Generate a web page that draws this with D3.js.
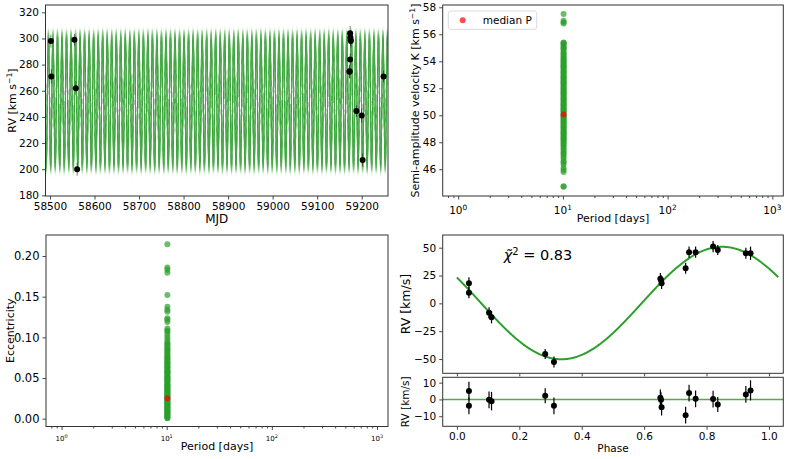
<!DOCTYPE html>
<html><head><meta charset="utf-8">
<script src="https://cdn.jsdelivr.net/npm/d3@7"></script>
<style>
body{margin:0;background:#fff;}
svg{display:block;font-family:"DejaVu Sans",sans-serif;}
</style></head><body>
<svg id="c" width="789" height="459"></svg>
<script>
// ---------------- data ----------------
const mjd   = [58502, 58503, 58555, 58558, 58561, 59174, 59174.5, 59175, 59175.5, 59174, 59173, 59172.5, 59188, 59200, 59202, 59249];
const rvObs = [298, 271, 299, 262, 200, 304, 301, 299, 298, 284, 275, 274.5, 244.5, 241, 207, 271];
const rvErr = [5, 5.5, 4.5, 5.5, 5, 5.5, 5, 4.5, 5, 4.5, 5, 5, 4.5, 5.5, 5, 4.5];

const phase    = [0.0386, 0.0386, 0.103, 0.111, 0.283, 0.311, 0.652, 0.654, 0.656, 0.733, 0.744, 0.765, 0.821, 0.836, 0.926, 0.941];
const rvPhase  = [18, 9.6, -8.4, -12.5, -45.5, -52.7, 22.2, 21, 18, 31.5, 46, 46, 51, 48, 45, 45];
const residual = [5.0, -3.8, -0.2, -1.0, 2.2, -3.8, 1.0, -0.2, -4.6, -9.4, 3.8, 0.4, 0.2, -3.0, 3.0, 5.4];
const phaseErr = [5.5, 5, 5, 5.5, 4.5, 5, 5, 4.5, 5, 5, 5, 5, 5, 4.5, 5, 6];

// posterior samples (K and e), period of the samples
const postK = [57.5, 57.0, 56.9, 56.8,
  55.4, 55.35, 55.3, 55.2, 55.1, 55.0, 54.95, 54.85, 54.7, 54.6, 54.5, 54.4, 54.3, 54.2, 54.1, 54.05,
  53.95, 53.9, 53.8, 53.7, 53.65, 53.55, 53.5, 53.4, 53.3, 53.25, 53.15, 53.1, 53.0, 52.9, 52.85, 52.75,
  52.7, 52.6, 52.5, 52.45, 52.35, 52.3, 52.2, 52.1, 52.05, 51.95, 51.9, 51.8, 51.7, 51.65, 51.55, 51.5,
  51.4, 51.3, 51.25, 51.15, 51.1, 51.0, 50.9, 50.85, 50.75, 50.7, 50.6, 50.5, 50.45, 50.35, 50.3, 50.2,
  50.1, 50.0, 49.95, 49.85, 49.8, 49.7, 49.6, 49.55, 49.45, 49.4, 49.3, 49.2, 49.15, 49.05, 49.0, 48.9,
  48.8, 48.75, 48.65, 48.6, 48.5, 48.4, 48.35, 48.25, 48.2, 48.1, 48.0, 47.9, 47.8, 47.7, 47.55, 47.45,
  47.3, 47.2, 47.1, 46.95, 46.8, 46.6, 46.5, 46.35, 46.1, 45.95, 45.8, 44.75, 44.7];
const postE = [0.2143, 0.1857, 0.183, 0.1795, 0.152, 0.1377, 0.134, 0.1316, 0.1234, 0.1215, 0.119, 0.111,
  0.1085, 0.107, 0.1035, 0.1, 0.097, 0.094, 0.092, 0.091, 0.089, 0.087, 0.0855, 0.084, 0.082, 0.081, 0.079,
  0.077, 0.076, 0.075, 0.073, 0.072, 0.070, 0.069, 0.068, 0.067, 0.065, 0.064, 0.063, 0.062, 0.060, 0.059,
  0.058, 0.057, 0.056, 0.055, 0.053, 0.052, 0.051, 0.05, 0.049, 0.048, 0.047, 0.046, 0.045, 0.043, 0.042,
  0.041, 0.04, 0.039, 0.038, 0.037, 0.036, 0.035, 0.034, 0.033, 0.032, 0.031, 0.03, 0.029, 0.028, 0.027,
  0.026, 0.025, 0.024, 0.023, 0.022, 0.021, 0.02, 0.019, 0.018, 0.017, 0.016, 0.015, 0.014, 0.013, 0.012,
  0.011, 0.01, 0.009, 0.008, 0.007, 0.006, 0.005, 0.004, 0.003, 0.002, 0.001, 0.0005];
const periodDays = 10.15;
const medianK = 50.05;
const medianE = 0.025;
const gammaRV = 252;
const T0 = 58491.5;
// phase-folded model curve parameters
const modelK = 50.5, modelOffset = 0.3, modelPhaseMin = 0.335, modelPhaseSpan = 1.031;

const mjdTicks = [58500, 58600, 58700, 58800, 58900, 59000, 59100, 59200];
const rvTicks  = [180, 200, 220, 240, 260, 280, 300, 320];
const kTicks   = [46, 48, 50, 52, 54, 56, 58];
const eTicks   = [0.00, 0.05, 0.10, 0.15, 0.20];
const logTicks = [1, 10, 100, 1000];
const phaseTicks = [0.0, 0.2, 0.4, 0.6, 0.8, 1.0];
const rvPhaseTicks = [-50, -25, 0, 25, 50];
const residTicks = [-10, 0, 10];

// ---------------- drawing ----------------
const GREEN = "#2ca02c", AX = "#333";
const svg = d3.select("#c");
const FONT = "DejaVu Sans";

function styleAxis(sel, fs){
  sel.select(".domain").remove();
  sel.attr("font-family", FONT);
  sel.selectAll(".tick line").attr("stroke", AX).attr("stroke-width", 0.9);
  sel.selectAll(".tick text").attr("font-size", fs).attr("fill", "#000");
}
function frame(g, w, h){
  g.append("rect").attr("width", w).attr("height", h).attr("fill", "none")
   .attr("stroke", AX).attr("stroke-width", 1);
}
function supLabel(g, x, y, rot, parts, fs){
  const t = g.append("text").attr("transform", `translate(${x},${y}) rotate(${rot})`)
    .attr("text-anchor", "middle").attr("font-size", fs).attr("font-family", FONT).attr("fill", "#000");
  parts.forEach(p => {
    const ts = t.append("tspan").text(p.t);
    if (p.sup) ts.attr("baseline-shift", "super").attr("font-size", fs * 0.7);
  });
  return t;
}
function logAxis(g, x, h, fsSup){
  const minors = [];
  [0.1, 1, 10, 100].forEach(d => { for (let i = 2; i < 10; i++) { const v = d * i; if (v > x.domain()[0] && v < x.domain()[1]) minors.push(v); } });
  const mg = g.append("g").attr("transform", `translate(0,${h})`)
    .call(d3.axisBottom(x).tickValues(minors).tickSize(2).tickFormat(""));
  styleAxis(mg, 8);
  const Mg = g.append("g").attr("transform", `translate(0,${h})`)
    .call(d3.axisBottom(x).tickValues(logTicks).tickSize(3.5).tickFormat(""));
  styleAxis(Mg, 8);
  logTicks.forEach((v, i) => {
    const t = g.append("text").attr("x", x(v)).attr("y", h + 3.5 + 3.5 + fsSup)
      .attr("text-anchor", "middle").attr("font-size", fsSup).attr("font-family", FONT);
    t.append("tspan").text("10");
    t.append("tspan").text(String(i)).attr("baseline-shift", "super").attr("font-size", fsSup * 0.7);
  });
}

// ===== Panel 1: RV vs MJD =====
{
  const L = 45.5, T = 5, W = 342.5, H = 191;
  const g = svg.append("g").attr("transform", `translate(${L},${T})`);
  const x = d3.scaleLinear().domain([58490, 59259]).range([0, W]);
  const y = d3.scaleLinear().domain([179.5, 325.6]).range([H, 0]);
  g.append("clipPath").attr("id", "clip1").append("rect").attr("width", W).attr("height", H);
  const ts = d3.range(x.domain()[0], x.domain()[1], 0.25);
  const band = g.append("g").attr("clip-path", "url(#clip1)");
  postK.filter((k, i) => i % 2 === 0).forEach(K => {
    const line = d3.line().x(t => x(t)).y(t => y(gammaRV - K * Math.cos(2 * Math.PI * (t - T0) / periodDays)));
    band.append("path").attr("d", line(ts)).attr("fill", "none")
      .attr("stroke", GREEN).attr("stroke-width", 1.2).attr("stroke-opacity", 0.035);
  });
  const pts = g.append("g");
  mjd.forEach((t, i) => {
    pts.append("line").attr("x1", x(t)).attr("x2", x(t))
      .attr("y1", y(rvObs[i] - rvErr[i])).attr("y2", y(rvObs[i] + rvErr[i]))
      .attr("stroke", "#000").attr("stroke-width", 1).attr("stroke-opacity", 0.5);
    pts.append("circle").attr("cx", x(t)).attr("cy", y(rvObs[i])).attr("r", 3).attr("fill", "#000");
  });
  const xa = g.append("g").attr("transform", `translate(0,${H})`)
    .call(d3.axisBottom(x).tickValues(mjdTicks).tickSize(3.5).tickPadding(3).tickFormat(d3.format("d")));
  styleAxis(xa, 10.5);
  const ya = g.append("g").call(d3.axisLeft(y).tickValues(rvTicks).tickSize(3.5).tickPadding(3));
  styleAxis(ya, 10.5);
  frame(g, W, H);
  svg.append("text").attr("x", L + W / 2).attr("y", 223).attr("text-anchor", "middle")
    .attr("font-size", 12).attr("font-family", FONT).text("MJD");
  supLabel(svg, 15.5, T + H / 2, -90, [{t: "RV [km s"}, {t: "−1", sup: true}, {t: "]"}], 11);
}

// ===== Panel 2: K vs Period =====
{
  const L = 442.7, T = 5, W = 340.6, H = 191;
  const g = svg.append("g").attr("transform", `translate(${L},${T})`);
  const x = d3.scaleLog().domain([0.711, 1273]).range([0, W]);
  const y = d3.scaleLinear().domain([44.02, 58.17]).range([H, 0]);
  postK.forEach(K => g.append("circle").attr("cx", x(periodDays)).attr("cy", y(K)).attr("r", 3)
    .attr("fill", GREEN).attr("fill-opacity", 0.7));
  g.append("circle").attr("cx", x(periodDays)).attr("cy", y(medianK)).attr("r", 3)
    .attr("fill", "red").attr("fill-opacity", 0.7);
  logAxis(g, x, H, 10.5);
  const ya = g.append("g").call(d3.axisLeft(y).tickValues(kTicks).tickSize(3.5).tickPadding(3));
  styleAxis(ya, 10.5);
  frame(g, W, H);
  // legend
  const lg = g.append("g").attr("transform", "translate(5.6,6)");
  lg.append("rect").attr("width", 88.4).attr("height", 18.3).attr("rx", 2.5)
    .attr("fill", "#fff").attr("fill-opacity", 0.8).attr("stroke", "#d0d0d0").attr("stroke-width", 0.8);
  lg.append("circle").attr("cx", 14.4).attr("cy", 9.2).attr("r", 3).attr("fill", "red").attr("fill-opacity", 0.7);
  lg.append("text").attr("x", 34.4).attr("y", 13).attr("font-size", 10.5).attr("font-family", FONT).text("median P");
  svg.append("text").attr("x", L + W / 2).attr("y", 222).attr("text-anchor", "middle")
    .attr("font-size", 11).attr("font-family", FONT).text("Period [days]");
  supLabel(svg, 419, T + H / 2, -90, [{t: "Semi-amplitude velocity K [km s"}, {t: "−1", sup: true}, {t: "]"}], 11);
}

// ===== Panel 3: e vs Period =====
{
  const L = 46, T = 235, W = 342, H = 191.5;
  const g = svg.append("g").attr("transform", `translate(${L},${T})`);
  const x = d3.scaleLog().domain([0.711, 1273]).range([0, W]);
  const y = d3.scaleLinear().domain([-0.0096, 0.2258]).range([H, 0]);
  postE.forEach(e => g.append("circle").attr("cx", x(periodDays)).attr("cy", y(e)).attr("r", 3)
    .attr("fill", GREEN).attr("fill-opacity", 0.7));
  g.append("circle").attr("cx", x(periodDays)).attr("cy", y(medianE)).attr("r", 3)
    .attr("fill", "red").attr("fill-opacity", 0.7);
  logAxis(g, x, H, 7);
  const ya = g.append("g").call(d3.axisLeft(y).tickValues(eTicks).tickSize(3.5).tickPadding(3).tickFormat(d3.format(".2f")));
  styleAxis(ya, 11.5);
  frame(g, W, H);
  svg.append("text").attr("x", L + W / 2).attr("y", 450).attr("text-anchor", "middle")
    .attr("font-size", 11).attr("font-family", FONT).text("Period [days]");
  supLabel(svg, 13.5, T + H / 2, -90, [{t: "Eccentricity"}], 11);
}

// ===== Panel 4: phase-folded RV + residuals =====
{
  const L = 442.7, W = 340.6;
  const x = d3.scaleLinear().domain([-0.0455, 1.046]).range([0, W]);
  // upper
  const T = 235, H = 138.3;
  const g = svg.append("g").attr("transform", `translate(${L},${T})`);
  const y = d3.scaleLinear().domain([-62.8, 61.4]).range([H, 0]);
  const ph = d3.range(0, modelPhaseSpan + 1e-9, 0.002);
  const curve = d3.line().x(p => x(p)).y(p => y(modelOffset - modelK * Math.cos(2 * Math.PI * (p - modelPhaseMin) / modelPhaseSpan)));
  g.append("path").attr("d", curve(ph)).attr("fill", "none").attr("stroke", GREEN).attr("stroke-width", 2);
  phase.forEach((p, i) => {
    g.append("line").attr("x1", x(p)).attr("x2", x(p)).attr("y1", y(rvPhase[i] - phaseErr[i])).attr("y2", y(rvPhase[i] + phaseErr[i]))
      .attr("stroke", "#000").attr("stroke-width", 1.2);
    g.append("circle").attr("cx", x(p)).attr("cy", y(rvPhase[i])).attr("r", 3).attr("fill", "#000");
  });
  const xa = g.append("g").attr("transform", `translate(0,${H})`)
    .call(d3.axisBottom(x).tickValues(phaseTicks).tickSize(3).tickFormat(""));
  styleAxis(xa, 10);
  const ya = g.append("g").call(d3.axisLeft(y).tickValues(rvPhaseTicks).tickSize(3.5).tickPadding(3));
  styleAxis(ya, 10.5);
  frame(g, W, H);
  const chi = g.append("text").attr("x", 61).attr("y", 24.5).attr("font-size", 14.5).attr("font-family", FONT);
  chi.append("tspan").text("χ\u0303").attr("font-style", "italic");
  chi.append("tspan").text("2").attr("baseline-shift", "super").attr("font-size", 10);
  chi.append("tspan").text(" = 0.83");
  supLabel(svg, 410, T + H / 2, -90, [{t: "RV [km/s]"}], 12.5);

  // lower
  const T2 = 377.3, H2 = 49;
  const g2 = svg.append("g").attr("transform", `translate(${L},${T2})`);
  const y2 = d3.scaleLinear().domain([-16, 13.2]).range([H2, 0]);
  g2.append("line").attr("x1", 0).attr("x2", W).attr("y1", y2(0)).attr("y2", y2(0))
    .attr("stroke", GREEN).attr("stroke-width", 1.4).attr("stroke-opacity", 0.85);
  phase.forEach((p, i) => {
    g2.append("line").attr("x1", x(p)).attr("x2", x(p)).attr("y1", y2(residual[i] - phaseErr[i])).attr("y2", y2(residual[i] + phaseErr[i]))
      .attr("stroke", "#000").attr("stroke-width", 1.2);
    g2.append("circle").attr("cx", x(p)).attr("cy", y2(residual[i])).attr("r", 3).attr("fill", "#000");
  });
  const xa2 = g2.append("g").attr("transform", `translate(0,${H2})`)
    .call(d3.axisBottom(x).tickValues(phaseTicks).tickSize(3.5).tickPadding(3).tickFormat(d3.format(".1f")));
  styleAxis(xa2, 10.5);
  const ya2 = g2.append("g").call(d3.axisLeft(y2).tickValues(residTicks).tickSize(3.5).tickPadding(3));
  styleAxis(ya2, 10.5);
  frame(g2, W, H2);
  svg.append("text").attr("x", L + W / 2).attr("y", 452).attr("text-anchor", "middle")
    .attr("font-size", 10.5).attr("font-family", FONT).text("Phase");
  supLabel(svg, 409, T2 + H2 / 2, -90, [{t: "RV [km/s]"}], 10.5);
}
</script>
</body></html>
